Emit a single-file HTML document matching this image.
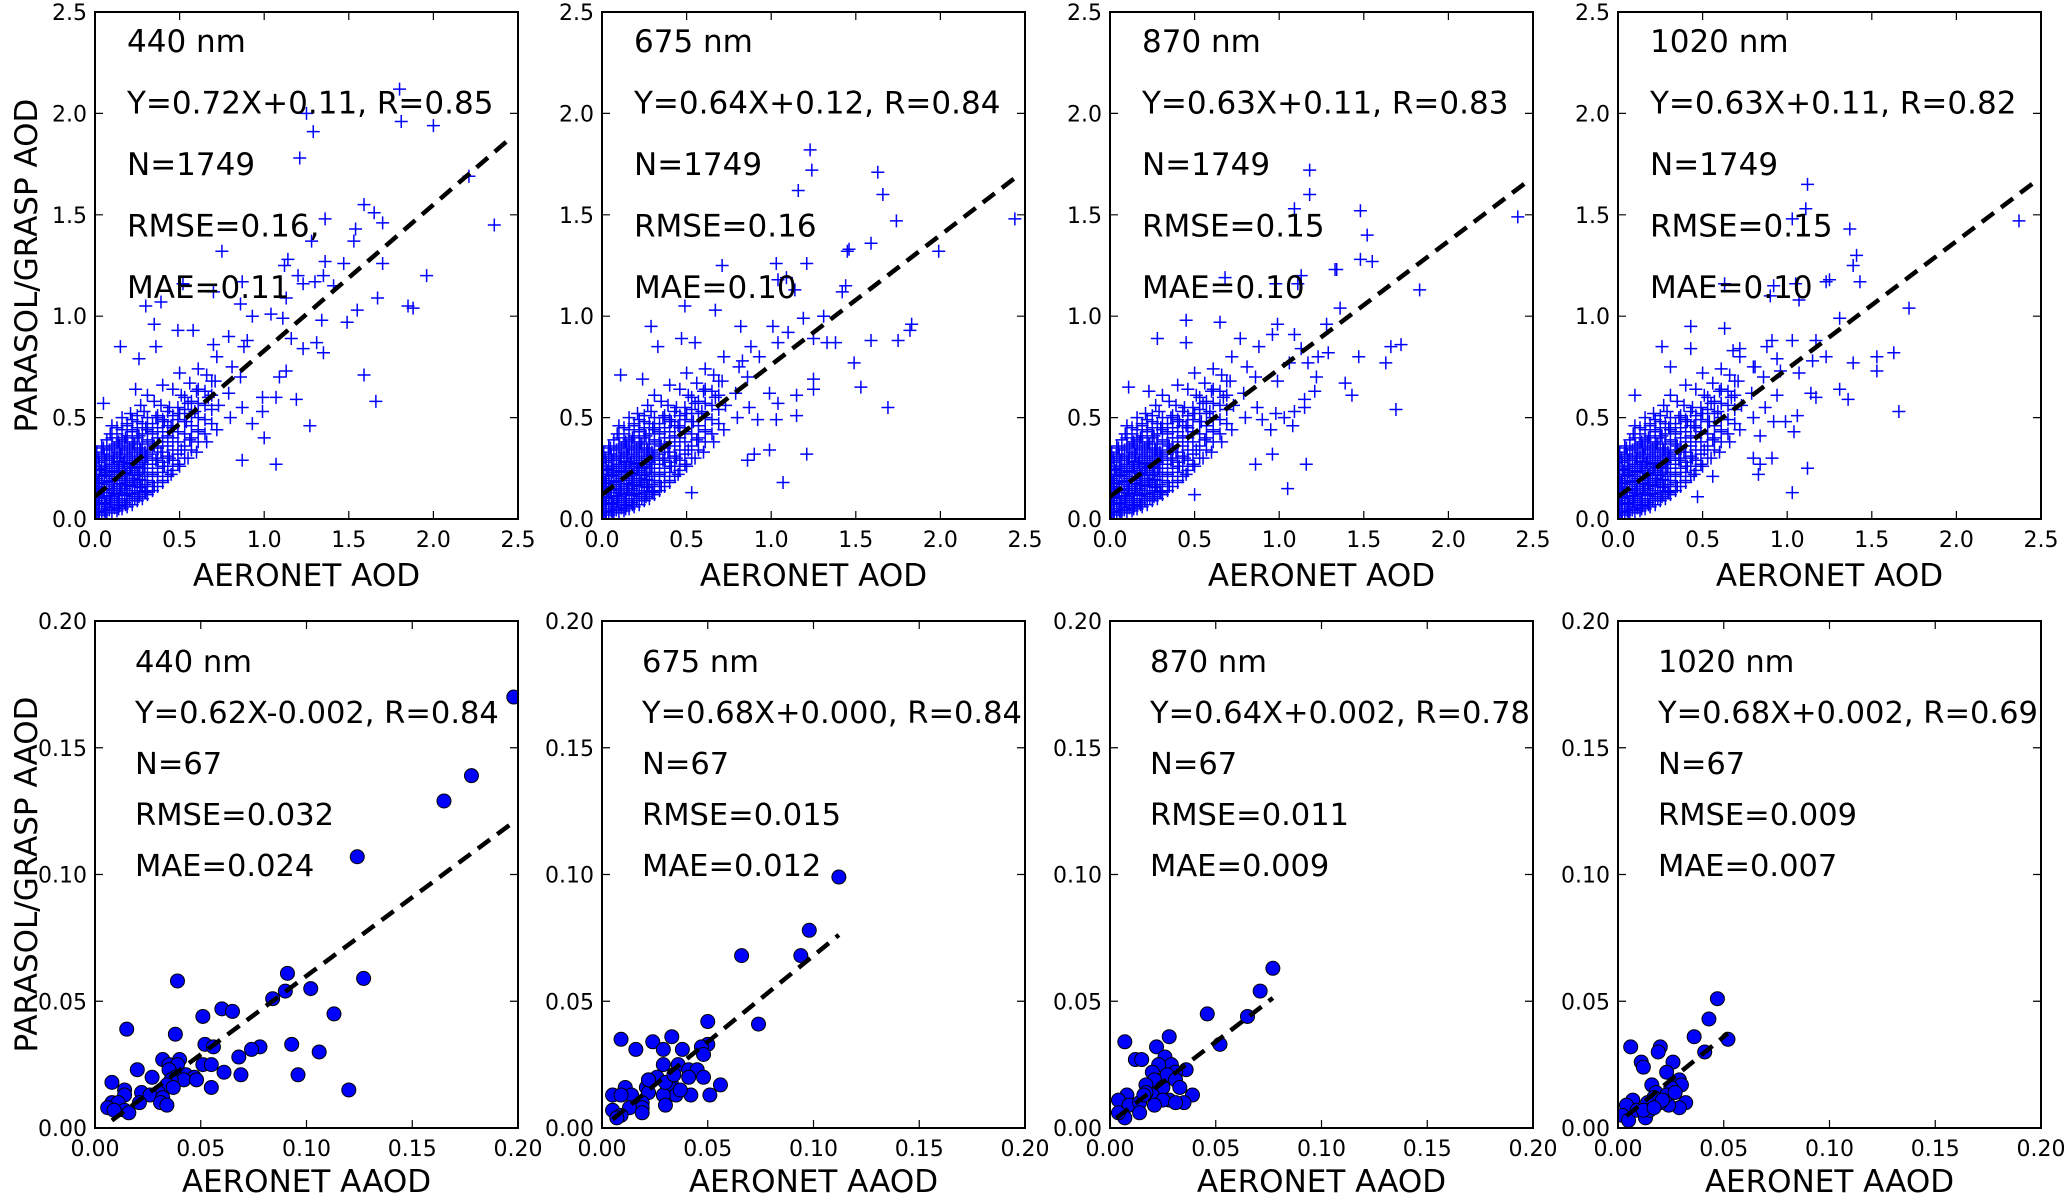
<!DOCTYPE html>
<html><head><meta charset="utf-8"><style>
html,body{margin:0;padding:0;background:#fff;}
svg{display:block;font-family:"DejaVu Sans","Liberation Sans",sans-serif;}
</style></head><body>
<svg id="fig" width="2067" height="1194" viewBox="0 0 2067 1194" xmlns="http://www.w3.org/2000/svg"></svg>
<script>
// ---------- data ----------
const panelLefts = [95, 602, 1110, 1618];
const wavelengths = ["440 nm", "675 nm", "870 nm", "1020 nm"];
const topFits = ["Y=0.72X+0.11, R=0.85", "Y=0.64X+0.12, R=0.84", "Y=0.63X+0.11, R=0.83", "Y=0.63X+0.11, R=0.82"];
const topRmse = ["RMSE=0.16,", "RMSE=0.16", "RMSE=0.15", "RMSE=0.15"];
const topMae = ["MAE=0.11", "MAE=0.10", "MAE=0.10", "MAE=0.10"];
const topSlope = [0.72, 0.64, 0.63, 0.63];
const topIntercept = [0.11, 0.12, 0.11, 0.11];
const topLineEnd = [2.45, 2.45, 2.46, 2.47];
const botFits = ["Y=0.62X-0.002, R=0.84", "Y=0.68X+0.000, R=0.84", "Y=0.64X+0.002, R=0.78", "Y=0.68X+0.002, R=0.69"];
const botRmse = ["RMSE=0.032", "RMSE=0.015", "RMSE=0.011", "RMSE=0.009"];
const botMae = ["MAE=0.024", "MAE=0.012", "MAE=0.009", "MAE=0.007"];
const botSlope = [0.62, 0.68, 0.64, 0.68];
const botIntercept = [-0.002, 0.000, 0.002, 0.002];
const botLineStart = [0.008, 0.005, 0.003, 0.004];
const botLineEnd = [0.198, 0.112, 0.077, 0.052];
const topTicks = ["0.0", "0.5", "1.0", "1.5", "2.0", "2.5"];
const botTicks = ["0.00", "0.05", "0.10", "0.15", "0.20"];

// dense low-AOD cluster (shared appearance across wavelengths), [x,y] pairs
const coreAOD = [
[0.02,0.03],[0.02,0.08],[0.03,0.13],[0.02,0.18],[0.03,0.24],[0.02,0.30],
[0.06,0.03],[0.06,0.08],[0.05,0.13],[0.07,0.18],[0.06,0.23],[0.06,0.29],[0.05,0.35],
[0.10,0.04],[0.09,0.09],[0.11,0.14],[0.10,0.19],[0.10,0.24],[0.11,0.30],[0.10,0.36],[0.09,0.42],
[0.14,0.05],[0.14,0.10],[0.15,0.15],[0.13,0.20],[0.14,0.26],[0.15,0.32],[0.14,0.38],[0.13,0.45],
[0.18,0.07],[0.19,0.12],[0.18,0.17],[0.18,0.22],[0.17,0.28],[0.19,0.34],[0.18,0.40],[0.19,0.47],
[0.22,0.09],[0.22,0.14],[0.23,0.19],[0.21,0.25],[0.22,0.31],[0.23,0.37],[0.22,0.44],[0.21,0.52],
[0.26,0.11],[0.27,0.16],[0.26,0.22],[0.25,0.28],[0.27,0.34],[0.26,0.41],[0.25,0.48],[0.27,0.56],
[0.30,0.13],[0.31,0.19],[0.29,0.25],[0.30,0.31],[0.31,0.38],[0.30,0.45],[0.29,0.53],[0.31,0.61],
[0.35,0.16],[0.34,0.22],[0.36,0.29],[0.35,0.36],[0.34,0.43],[0.36,0.50],[0.35,0.58],
[0.40,0.19],[0.41,0.26],[0.39,0.33],[0.40,0.40],[0.41,0.48],[0.39,0.56],[0.40,0.66],
[0.45,0.22],[0.44,0.30],[0.46,0.38],[0.45,0.46],[0.44,0.55],[0.46,0.64],
[0.50,0.26],[0.51,0.34],[0.49,0.43],[0.50,0.52],[0.51,0.61],[0.50,0.72],
[0.55,0.30],[0.56,0.39],[0.54,0.48],[0.55,0.57],[0.56,0.67],
[0.60,0.33],[0.61,0.43],[0.59,0.53],[0.60,0.63],[0.61,0.74],
[0.66,0.38],[0.65,0.49],[0.67,0.60],[0.66,0.71],
[0.72,0.44],[0.73,0.56],[0.71,0.68],[0.72,0.80],
[0.80,0.50],[0.79,0.62],[0.81,0.75],
[0.87,0.55],[0.86,0.70],[0.88,0.85]
];
// extra dense core columns: [x, [y values]]
const coreDense = [
[0.01,[0.02,0.05,0.09,0.12,0.16,0.20,0.24,0.28,0.33]],
[0.04,[0.02,0.05,0.08,0.11,0.15,0.19,0.22,0.26,0.31,0.36]],
[0.07,[0.03,0.06,0.10,0.13,0.17,0.21,0.25,0.29,0.34,0.39]],
[0.10,[0.03,0.07,0.11,0.15,0.19,0.23,0.27,0.31,0.35,0.40,0.46]],
[0.13,[0.04,0.08,0.12,0.16,0.20,0.24,0.28,0.33,0.37,0.42]],
[0.16,[0.05,0.09,0.13,0.17,0.21,0.25,0.30,0.35,0.39,0.44,0.50]],
[0.19,[0.06,0.10,0.14,0.18,0.23,0.27,0.32,0.36,0.41,0.46]],
[0.22,[0.07,0.11,0.16,0.20,0.24,0.29,0.33,0.38,0.43,0.49]],
[0.25,[0.09,0.13,0.17,0.22,0.26,0.30,0.35,0.40,0.45,0.51]],
[0.28,[0.10,0.14,0.19,0.23,0.28,0.32,0.37,0.42,0.47]],
[0.31,[0.12,0.16,0.21,0.25,0.30,0.34,0.39,0.44,0.50]],
[0.34,[0.14,0.18,0.23,0.27,0.32,0.37,0.42,0.47]],
[0.37,[0.16,0.21,0.25,0.30,0.35,0.40,0.45,0.51]],
[0.40,[0.18,0.23,0.28,0.33,0.38,0.43,0.49]],
[0.43,[0.21,0.26,0.31,0.36,0.41,0.46,0.53]],
[0.46,[0.24,0.29,0.34,0.40,0.45,0.51]],
[0.49,[0.27,0.32,0.38,0.43,0.49,0.55]],
[0.53,[0.30,0.36,0.42,0.48,0.54,0.60]],
[0.57,[0.34,0.40,0.46,0.52,0.58]],
[0.61,[0.38,0.44,0.50,0.57,0.64]],
[0.65,[0.42,0.49,0.56,0.63]],
[0.69,[0.47,0.54,0.61,0.68]]
];
// innermost saturated region near the origin: [x, [y values]]
const coreInner = [
[0.025,[0.035,0.07,0.105,0.14,0.175,0.21,0.245,0.28]],
[0.055,[0.04,0.075,0.11,0.145,0.18,0.215,0.25,0.29,0.32]],
[0.085,[0.045,0.08,0.115,0.15,0.185,0.22,0.26,0.30,0.34]],
[0.115,[0.055,0.09,0.125,0.16,0.20,0.235,0.27,0.31,0.35]],
[0.145,[0.065,0.10,0.14,0.175,0.21,0.25,0.285,0.32,0.36]],
[0.175,[0.08,0.115,0.15,0.19,0.225,0.26,0.30,0.34,0.38]],
[0.205,[0.09,0.125,0.165,0.20,0.24,0.275,0.31,0.35]],
[0.235,[0.10,0.14,0.18,0.215,0.255,0.29,0.33,0.37]],
[0.265,[0.12,0.155,0.195,0.23,0.27,0.31,0.35]],
[0.295,[0.135,0.17,0.21,0.25,0.29,0.33]]
];
// scattered high-AOD points per wavelength, [x,y]
const outAOD440 = [[1.80,2.12],[1.25,2.0],[1.29,1.91],[1.81,1.96],[2.0,1.94],[1.21,1.78],[2.21,1.69],[2.36,1.45],[1.59,1.55],[1.65,1.51],[1.70,1.46],[1.36,1.48],[1.54,1.43],[1.53,1.37],[1.28,1.37],[0.75,1.32],[1.70,1.26],[1.47,1.26],[1.36,1.27],[1.14,1.28],[1.12,1.25],[1.96,1.20],[1.20,1.20],[1.35,1.20],[1.23,1.16],[1.30,1.17],[1.41,1.15],[0.87,1.17],[0.52,1.16],[0.70,1.12],[1.13,1.09],[1.67,1.09],[0.39,1.07],[0.30,1.05],[0.86,1.06],[1.85,1.05],[1.88,1.04],[1.04,1.01],[0.93,1.0],[1.11,0.99],[1.34,0.98],[1.49,0.97],[1.55,1.03],[0.35,0.96],[1.59,0.71],[1.66,0.58],[1.27,0.46],[1.0,0.40],[0.87,0.29],[1.07,0.27],[1.23,0.84],[1.31,0.87],[1.35,0.82],[1.16,0.89],[1.19,0.59],[1.07,0.60],[1.13,0.73],[1.09,0.70],[0.99,0.60],[0.99,0.53],[0.93,0.47],[0.15,0.85],[0.26,0.79],[0.49,0.93],[0.58,0.93],[0.05,0.57],[0.24,0.64],[0.36,0.85],[0.70,0.86],[0.90,0.88],[0.79,0.90]];
const outAOD675 = [[1.23,1.82],[1.24,1.72],[1.16,1.62],[1.63,1.71],[1.66,1.6],[1.74,1.47],[2.44,1.48],[1.99,1.32],[1.59,1.36],[1.45,1.32],[1.46,1.33],[1.03,1.26],[1.21,1.26],[0.71,1.25],[1.09,1.19],[1.04,1.18],[1.14,1.13],[1.42,1.12],[1.44,1.15],[0.49,1.05],[0.67,1.03],[1.19,0.99],[1.31,1.0],[1.83,0.96],[1.82,0.93],[1.75,0.88],[1.59,0.88],[1.33,0.87],[1.38,0.87],[1.25,0.89],[1.01,0.95],[0.82,0.95],[0.29,0.95],[1.10,0.92],[1.04,0.87],[1.49,0.77],[1.53,0.65],[1.69,0.55],[1.25,0.69],[1.25,0.64],[1.15,0.61],[0.99,0.62],[1.04,0.57],[1.15,0.51],[1.03,0.49],[0.92,0.49],[1.21,0.32],[1.07,0.18],[0.99,0.34],[0.90,0.32],[0.86,0.29],[0.11,0.71],[0.24,0.69],[0.33,0.85],[0.47,0.89],[0.55,0.87],[0.93,0.80],[0.83,0.78],[0.53,0.13]];
const outAOD870 = [[1.18,1.72],[1.18,1.60],[1.09,1.53],[1.48,1.52],[1.52,1.40],[1.48,1.28],[1.55,1.27],[2.41,1.49],[1.33,1.23],[1.34,1.23],[1.13,1.20],[1.11,1.16],[0.98,1.16],[0.68,1.19],[1.83,1.13],[1.36,1.04],[1.28,0.96],[0.99,0.96],[0.96,0.91],[1.09,0.91],[0.45,0.98],[0.65,0.97],[0.28,0.89],[0.45,0.87],[0.77,0.89],[1.72,0.86],[1.66,0.85],[1.47,0.80],[1.63,0.77],[1.29,0.82],[1.23,0.80],[1.13,0.84],[1.17,0.77],[1.06,0.77],[1.22,0.70],[0.99,0.68],[1.39,0.67],[1.43,0.61],[1.21,0.63],[1.15,0.59],[1.15,0.55],[1.09,0.53],[1.69,0.54],[0.98,0.52],[1.03,0.50],[1.08,0.46],[0.90,0.49],[0.95,0.44],[0.96,0.32],[1.16,0.27],[0.86,0.27],[1.05,0.15],[0.50,0.12],[0.11,0.65],[0.23,0.63]];
const outAOD1020 = [[1.12,1.65],[1.11,1.53],[1.03,1.48],[1.37,1.43],[1.41,1.30],[1.39,1.25],[2.37,1.47],[1.23,1.17],[1.25,1.18],[1.43,1.17],[1.05,1.16],[0.63,1.16],[0.92,1.15],[0.90,1.10],[1.07,1.08],[1.72,1.04],[1.31,0.99],[0.43,0.95],[0.63,0.94],[0.26,0.85],[0.43,0.84],[0.72,0.84],[0.68,0.83],[0.91,0.88],[1.03,0.88],[1.17,0.88],[1.23,0.80],[1.63,0.82],[1.53,0.80],[1.53,0.73],[1.39,0.77],[0.94,0.79],[1.15,0.78],[1.07,0.72],[0.96,0.73],[0.80,0.75],[1.31,0.64],[1.36,0.59],[1.14,0.62],[1.17,0.60],[0.94,0.61],[1.66,0.53],[1.06,0.51],[1.04,0.43],[0.99,0.48],[0.92,0.48],[0.84,0.41],[0.80,0.30],[0.91,0.30],[0.84,0.27],[0.83,0.22],[1.12,0.25],[1.03,0.13],[0.56,0.21],[0.47,0.11],[0.10,0.61],[0.31,0.75]];
const aaod440 = [[0.198,0.170],[0.178,0.139],[0.165,0.129],[0.124,0.107],[0.039,0.058],[0.091,0.061],[0.090,0.054],[0.127,0.059],[0.102,0.055],[0.084,0.051],[0.113,0.045],[0.060,0.047],[0.065,0.046],[0.051,0.044],[0.015,0.039],[0.038,0.037],[0.093,0.033],[0.052,0.033],[0.056,0.032],[0.078,0.032],[0.074,0.031],[0.106,0.030],[0.068,0.028],[0.032,0.027],[0.040,0.027],[0.035,0.025],[0.039,0.025],[0.051,0.025],[0.055,0.025],[0.020,0.023],[0.035,0.023],[0.061,0.022],[0.096,0.021],[0.069,0.021],[0.043,0.021],[0.047,0.020],[0.027,0.020],[0.038,0.020],[0.042,0.019],[0.008,0.018],[0.036,0.019],[0.048,0.019],[0.034,0.017],[0.055,0.016],[0.037,0.016],[0.120,0.015],[0.014,0.015],[0.022,0.014],[0.030,0.014],[0.014,0.013],[0.026,0.013],[0.032,0.012],[0.008,0.010],[0.011,0.010],[0.021,0.010],[0.031,0.010],[0.034,0.009],[0.006,0.008],[0.014,0.007],[0.016,0.006],[0.009,0.007]];
const aaod675 = [[0.112,0.099],[0.098,0.078],[0.066,0.068],[0.094,0.068],[0.074,0.041],[0.050,0.042],[0.009,0.035],[0.033,0.036],[0.024,0.034],[0.016,0.031],[0.029,0.031],[0.038,0.031],[0.050,0.033],[0.047,0.032],[0.048,0.029],[0.029,0.025],[0.036,0.025],[0.041,0.023],[0.045,0.023],[0.048,0.020],[0.041,0.020],[0.056,0.017],[0.026,0.020],[0.022,0.019],[0.021,0.016],[0.033,0.017],[0.032,0.016],[0.042,0.013],[0.051,0.013],[0.035,0.013],[0.029,0.013],[0.022,0.014],[0.011,0.016],[0.014,0.013],[0.005,0.013],[0.009,0.013],[0.030,0.009],[0.019,0.010],[0.019,0.008],[0.013,0.008],[0.005,0.007],[0.009,0.005],[0.019,0.006],[0.007,0.004],[0.037,0.015],[0.030,0.018],[0.022,0.019],[0.034,0.021]];
const aaod870 = [[0.077,0.063],[0.071,0.054],[0.046,0.045],[0.065,0.044],[0.052,0.033],[0.007,0.034],[0.028,0.036],[0.022,0.032],[0.012,0.027],[0.015,0.027],[0.026,0.028],[0.029,0.025],[0.023,0.025],[0.036,0.023],[0.031,0.022],[0.020,0.022],[0.027,0.021],[0.021,0.019],[0.031,0.019],[0.025,0.016],[0.017,0.017],[0.033,0.016],[0.039,0.013],[0.008,0.013],[0.020,0.013],[0.028,0.011],[0.035,0.010],[0.025,0.011],[0.004,0.011],[0.009,0.009],[0.014,0.010],[0.021,0.009],[0.031,0.010],[0.014,0.006],[0.007,0.004],[0.004,0.006],[0.017,0.014],[0.016,0.013]];
const aaod1020 = [[0.047,0.051],[0.043,0.043],[0.052,0.035],[0.036,0.036],[0.041,0.030],[0.006,0.032],[0.020,0.032],[0.019,0.030],[0.011,0.026],[0.012,0.024],[0.026,0.026],[0.023,0.022],[0.029,0.019],[0.030,0.017],[0.016,0.017],[0.025,0.016],[0.018,0.014],[0.032,0.010],[0.029,0.008],[0.024,0.009],[0.020,0.010],[0.017,0.012],[0.014,0.010],[0.007,0.011],[0.004,0.009],[0.002,0.005],[0.005,0.003],[0.009,0.007],[0.013,0.004],[0.015,0.007],[0.023,0.013],[0.027,0.014],[0.021,0.011],[0.012,0.007],[0.017,0.008]];

const outAOD = [outAOD440, outAOD675, outAOD870, outAOD1020];
const aaodData = [aaod440, aaod675, aaod870, aaod1020];

// ---------- drawing ----------
const NS = "http://www.w3.org/2000/svg";
const svg = document.getElementById("fig");
const W = 423;
function el(tag, attrs, parent) {
  const e = document.createElementNS(NS, tag);
  for (const k in attrs) e.setAttribute(k, attrs[k]);
  (parent || svg).appendChild(e);
  return e;
}
function drawPanel(idx, row) {
  const left = panelLefts[idx];
  const top = row === 0 ? 12 : 621;
  const H = 507;
  const maxV = row === 0 ? 2.5 : 0.2;
  const sx = v => left + v / maxV * W;
  const sy = v => top + H - v / maxV * H;
  const g = el("g", {});
  
  
  const clipId = "clip" + row + idx;
  const cp = el("clipPath", {id: clipId}, g);
  el("rect", {x: left, y: top, width: W, height: H}, cp);

  const marks = el("g", {"clip-path": "url(#" + clipId + ")"}, g);
  
  
  if (row === 0) {
    const pts = coreAOD.concat(outAOD[idx]);
    for (const col of coreDense) for (const yv of col[1]) pts.push([col[0], yv]);
    for (const col of coreInner) for (const yv of col[1]) pts.push([col[0], yv]);
    let d = "";
    for (const p of pts) {
      const x = sx(p[0]), y = sy(p[1]);
      d += "M" + (x - 6.5) + " " + y + "h13M" + x + " " + (y - 6.5) + "v13";
    }
    const path = el("path", {d: d, stroke: "#0000ff", "stroke-width": 1.5, fill: "none"}, marks);
    
    
  } else {
    for (const p of aaodData[idx]) {
      const c = el("circle", {cx: sx(p[0]), cy: sy(p[1]), r: 7, fill: "#0000ff", stroke: "#000", "stroke-width": 1}, marks);
      
      
    }
  }
  let x0, x1, a, b;
  if (row === 0) { x0 = 0; x1 = topLineEnd[idx]; a = topSlope[idx]; b = topIntercept[idx]; }
  else { x0 = botLineStart[idx]; x1 = botLineEnd[idx]; a = botSlope[idx]; b = botIntercept[idx]; }
  const ln = el("line", {x1: sx(x0), y1: sy(a * x0 + b), x2: sx(x1), y2: sy(a * x1 + b), stroke: "#000", "stroke-width": 4.5, "stroke-dasharray": "15,9"}, marks);
  
  

  const ticks = row === 0 ? topTicks : botTicks;
  for (let i = 0; i < ticks.length; i++) {
    const v = parseFloat(ticks[i]);
    const X = sx(v), Y = sy(v);
    el("path", {d: "M" + X + " " + (top + H) + "v-8M" + X + " " + top + "v8M" + left + " " + Y + "h8M" + (left + W) + " " + Y + "h-8", stroke: "#000", "stroke-width": 1.2}, g);
    const tx = el("text", {x: X, y: top + H + 28, "text-anchor": "middle", "font-size": 22, fill: "#000"}, g);
    tx.textContent = ticks[i];
    
    
    const ty = el("text", {x: left - 8, y: Y + 8, "text-anchor": "end", "font-size": 22, fill: "#000"}, g);
    ty.textContent = ticks[i];
    
    
  }
  const frame = el("rect", {x: left, y: top, width: W, height: H, fill: "none", stroke: "#000", "stroke-width": 2}, g);
  
  

  const lines = row === 0
    ? [wavelengths[idx], topFits[idx], "N=1749", topRmse[idx], topMae[idx]]
    : [wavelengths[idx], botFits[idx], "N=67", botRmse[idx], botMae[idx]];
  const names = ['wavelength-label', 'fit-equation', 'sample-count', 'rmse-label', 'mae-label'];
  for (let i = 0; i < lines.length; i++) {
    const t = row === 0
      ? el("text", {x: left + 32, y: 52 + i * 61.5, "font-size": 31, fill: "#000"}, g)
      : el("text", {x: left + 40, y: 672 + i * 51, "font-size": 30.5, fill: "#000"}, g);
    t.textContent = lines[i];
    
    
  }
  const xl = el("text", {x: left + W / 2, y: row === 0 ? 586 : 1192, "text-anchor": "middle", "font-size": 31, fill: "#000"}, g);
  xl.textContent = row === 0 ? "AERONET AOD" : "AERONET AAOD";
  
  
  if (idx === 0) {
    const cy = top + H / 2;
    const yl = el("text", {x: 37, y: cy, "text-anchor": "middle", "font-size": 31, fill: "#000", transform: "rotate(-90 37 " + cy + ")"}, g);
    yl.textContent = row === 0 ? "PARASOL/GRASP AOD" : "PARASOL/GRASP AAOD";
    
    
  }
}
for (let r = 0; r < 2; r++) for (let i = 0; i < 4; i++) drawPanel(i, r);
</script>
</body></html>
